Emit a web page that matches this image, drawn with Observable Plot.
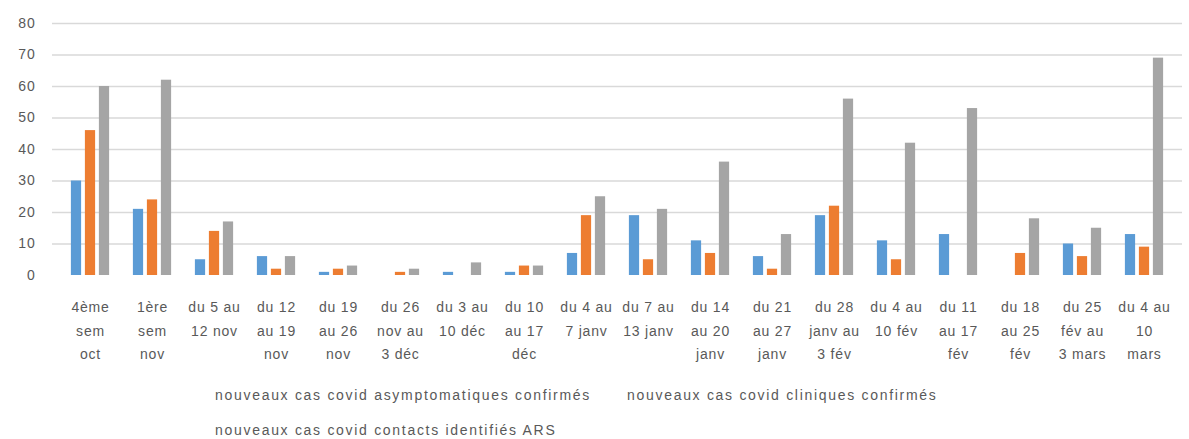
<!DOCTYPE html>
<html>
<head>
<meta charset="utf-8">
<script src="https://cdn.jsdelivr.net/npm/d3@7"></script>
<script src="https://cdn.jsdelivr.net/npm/@observablehq/plot@0.6"></script>
<style>
  body { margin: 0; background: #fff; font-family: "Liberation Sans", Arial, sans-serif; }
  #legend { color: #595959; font-size: 14px; letter-spacing: 1.7px; padding-top: 2px; }
  #legend .row { display: flex; height: 35px; align-items: center; padding-left: 215px; }
  #legend .item { white-space: nowrap; }
  #legend .item.first { width: 412px; }
</style>
</head>
<body>
<div id="chart"></div>
<div id="legend"></div>
<script>
const categories = [
  "4ème\nsem\noct", "1ère\nsem\nnov", "du 5 au\n12 nov", "du 12\nau 19\nnov", "du 19\nau 26\nnov",
  "du 26\nnov au\n3 déc", "du 3 au\n10 déc", "du 10\nau 17\ndéc", "du 4 au\n7 janv", "du 7 au\n13 janv",
  "du 14\nau 20\njanv", "du 21\nau 27\njanv", "du 28\njanv au\n3 fév", "du 4 au\n10 fév", "du 11\nau 17\nfév",
  "du 18\nau 25\nfév", "du 25\nfév au\n3 mars", "du 4 au\n10\nmars"
];
const asymptomatiques = [30, 21, 5, 6, 1, 0, 1, 1, 7, 19, 11, 6, 19, 11, 13, 0, 10, 13];
const cliniques       = [46, 24, 14, 2, 2, 1, 0, 3, 19, 5, 7, 2, 22, 5, 0, 7, 6, 9];
const contacts        = [60, 62, 17, 6, 3, 2, 4, 3, 25, 21, 36, 13, 56, 42, 53, 18, 15, 69];
const seriesNames = [
  "nouveaux cas covid asymptomatiques confirmés",
  "nouveaux cas covid cliniques confirmés",
  "nouveaux cas covid contacts identifiés ARS"
];
const seriesColors = ["#5B9BD5", "#ED7D31", "#A5A5A5"];
const yTicks = [10, 20, 30, 40, 50, 60, 70, 80];
const yAxisTicks = [0, 10, 20, 30, 40, 50, 60, 70, 80];

const seriesValues = [asymptomatiques, cliniques, contacts];
const W = 1189, mL = 52, mR = 7;
const bw = (W - mL - mR) / categories.length;
const barW = 11, gap = 3;
const start = bw / 2 - (3 * barW + 2 * gap) / 2;

const marks = [
  Plot.gridY(yTicks, {stroke: "#d9d9d9", strokeOpacity: 1, strokeWidth: 1.6}),
  Plot.axisY(yAxisTicks, {tickSize: 0, tickPadding: 17, fontSize: 14, fill: "#595959", label: null}),
  Plot.axisX({tickSize: 0, tickPadding: 20, fontSize: 14, fill: "#595959", lineHeight: 1.68, label: null})
];
seriesValues.forEach((vals, i) => {
  const data = categories.map((c, j) => ({category: c, value: vals[j]}));
  const left = start + i * (barW + gap);
  marks.push(Plot.barY(data, {
    x: "category", y: "value", fill: seriesColors[i],
    insetLeft: left, insetRight: bw - left - barW
  }));
});

const chart = Plot.plot({
  width: W, height: 375,
  marginLeft: mL, marginRight: mR, marginTop: 23, marginBottom: 100,
  style: {fontFamily: "'Liberation Sans', Arial, sans-serif", letterSpacing: "0.8px", background: "#fff"},
  x: {domain: categories, padding: 0, axis: null},
  y: {domain: [0, 80], axis: null},
  marks
});
document.getElementById("chart").appendChild(chart);

const legend = document.getElementById("legend");
const row1 = document.createElement("div"); row1.className = "row";
const row2 = document.createElement("div"); row2.className = "row";
seriesNames.forEach((name, i) => {
  const s = document.createElement("span");
  s.className = "item" + (i === 0 ? " first" : "");
  s.textContent = name;
  (i < 2 ? row1 : row2).appendChild(s);
});
legend.appendChild(row1); legend.appendChild(row2);
</script>
</body>
</html>
